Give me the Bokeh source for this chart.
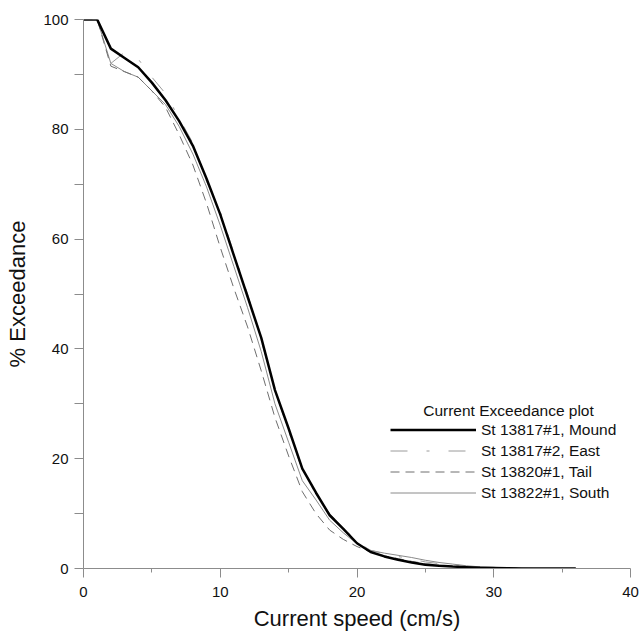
from bokeh.plotting import figure
from bokeh.models import FixedTicker, Legend, LegendItem, Label, Range1d
from bokeh.embed import file_html
from bokeh.resources import INLINE

speed = [0, 1, 2, 3, 4, 5, 6, 7, 8, 9, 10, 11, 12, 13, 14, 15, 16, 17, 18, 19, 20,
         21, 22, 23, 24, 25, 26, 27, 28, 29, 30, 31, 32, 33, 34, 35, 36]

mound = [100, 100, 94.7, 93.0, 91.3, 88.5, 85.3, 81.5, 77.0, 71.0, 64.5, 57.0, 49.5,
         42.0, 32.5, 25.5, 18.2, 13.8, 9.7, 7.2, 4.6, 3.0, 2.2, 1.6, 1.1, 0.7, 0.5,
         0.35, 0.25, 0.15, 0.1, 0.05, 0, 0, 0, 0, 0]
east = [100, 100, 92.0, 94.0, 92.8, 89.5, 86.5, 82.0, 77.5, 70.5, 65.0, 57.5, 50.0,
        41.5, 32.5, 25.0, 18.0, 13.5, 10.0, 7.5, 4.8, 3.3, 2.7, 2.2, 1.7, 1.2, 0.9,
        0.7, 0.5, 0.35, 0.2, 0.1, 0.05, 0, 0, 0, 0]
tail = [100, 100, 91.5, 90.5, 89.5, 87.0, 84.0, 79.0, 73.5, 66.5, 58.5, 51.0, 44.0,
        36.0, 27.5, 20.5, 14.0, 10.0, 7.0, 5.3, 4.0, 3.0, 2.3, 1.8, 1.3, 0.9, 0.6,
        0.4, 0.3, 0.2, 0.1, 0.05, 0, 0, 0, 0, 0]
south = [100, 100, 92.0, 90.5, 89.5, 87.0, 84.5, 80.5, 75.5, 69.5, 62.5, 55.0, 47.5,
         39.5, 30.0, 23.0, 16.0, 12.5, 8.8, 6.5, 4.5, 3.3, 2.8, 2.4, 2.0, 1.5, 1.1,
         0.8, 0.5, 0.3, 0.2, 0.1, 0.05, 0, 0, 0, 0]

series_labels = ["St 13817#1, Mound", "St 13817#2, East", "St 13820#1, Tail", "St 13822#1, South"]
legend_title = "Current Exceedance plot"
x_ticks = [0, 10, 20, 30, 40]
x_minor = [5, 15, 25, 35]
y_ticks = [0, 20, 40, 60, 80, 100]
y_minor = [10, 30, 50, 70, 90]

FONT = "Liberation Sans"

p = figure(width=641, height=634, output_backend="svg", toolbar_location=None,
           x_range=Range1d(0, 40), y_range=Range1d(0, 100),
           min_border_left=83, min_border_right=11, min_border_top=19, min_border_bottom=66)
p.outline_line_color = None
p.grid.visible = False
p.background_fill_color = "white"

p.xaxis.ticker = FixedTicker(ticks=x_ticks, minor_ticks=x_minor)
p.yaxis.ticker = FixedTicker(ticks=y_ticks, minor_ticks=y_minor)
for ax in (p.xaxis, p.yaxis):
    ax.axis_line_color = "#8c8c8c"
    ax.major_tick_line_color = "#8c8c8c"
    ax.minor_tick_line_color = "#8c8c8c"
    ax.major_tick_in = 0
    ax.major_tick_out = 9
    ax.minor_tick_in = 0
    ax.major_label_text_font = FONT
    ax.major_label_text_font_size = "15px"
    ax.major_label_text_color = "#111111"
    ax.axis_label_text_font = FONT
    ax.axis_label_text_font_size = "22px"
    ax.axis_label_text_font_style = "normal"
    ax.axis_label_text_color = "#111111"
p.xaxis.minor_tick_out = 4
p.yaxis.minor_tick_out = 9
p.xaxis.major_label_standoff = 9
p.yaxis.major_label_standoff = 6
p.xaxis.axis_label = "Current speed (cm/s)"
p.yaxis.axis_label = "% Exceedance"
p.xaxis.axis_label_standoff = 6
p.yaxis.axis_label_standoff = 10

r_south = p.line(speed, south, line_color="#8a8a8a", line_width=1)
r_tail = p.line(speed, tail, line_color="#6e6e6e", line_width=1, line_dash="9 6")
r_east = p.line(speed, east, line_color="#9a9a9a", line_width=1, line_dash="17 19 3 19")
r_mound = p.line(speed, mound, line_color="black", line_width=2.5)

legend = Legend(items=[
    LegendItem(label=series_labels[0], renderers=[r_mound]),
    LegendItem(label=series_labels[1], renderers=[r_east]),
    LegendItem(label=series_labels[2], renderers=[r_tail]),
    LegendItem(label=series_labels[3], renderers=[r_south]),
], location=(307, 65))
legend.glyph_width = 86
legend.glyph_height = 21
legend.label_height = 21
legend.spacing = 0
legend.padding = 0
legend.margin = 0
legend.label_standoff = 5
legend.label_text_font = FONT
legend.label_text_font_size = "15.5px"
legend.label_text_color = "#111111"
legend.background_fill_alpha = 0
legend.border_line_alpha = 0
p.add_layout(legend)

p.add_layout(Label(x=425, y=158, x_units="screen", y_units="screen", text=legend_title,
                   text_align="center", text_baseline="middle", text_font=FONT,
                   text_font_size="15.5px", text_color="#111111"))

open("out.html", "w").write(file_html(p, INLINE))
